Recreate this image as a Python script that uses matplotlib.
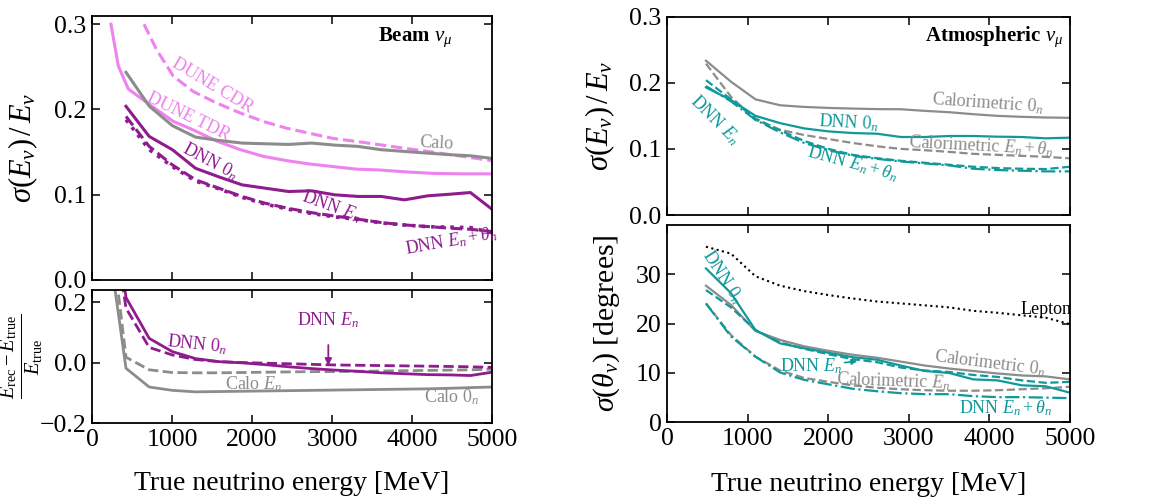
import matplotlib
matplotlib.use("Agg")
import matplotlib.pyplot as plt

plt.rcParams["font.family"] = ["Liberation Serif", "DejaVu Serif"]
plt.rcParams["mathtext.fontset"] = "custom"
plt.rcParams["mathtext.rm"] = "Liberation Serif"
plt.rcParams["mathtext.it"] = "Liberation Serif:italic"
plt.rcParams["mathtext.bf"] = "Liberation Serif:bold"
plt.rcParams["axes.linewidth"] = 1.3

# ---------------- Beam nu_mu: energy resolution ----------------
beam_E = [425, 715, 1005, 1295, 1585, 1875, 2165, 2455, 2745, 3035, 3325,
          3615, 3905, 4195, 4485, 4730, 5000]
beam_res_calo = [0.2436, 0.204, 0.181, 0.1676, 0.1637, 0.1606, 0.1598, 0.159,
                 0.1606, 0.1582, 0.1567, 0.1528, 0.1508, 0.1488, 0.1469, 0.1457, 0.1426]
beam_res_dnn0 = [0.2037, 0.1684, 0.1528, 0.131, 0.121, 0.1116, 0.1077, 0.1038,
                 0.1046, 0.0999, 0.098, 0.098, 0.094, 0.0987, 0.1007, 0.1026, 0.083]
beam_res_dnnE = [0.1919, 0.1567, 0.135, 0.1175, 0.1077, 0.098, 0.090, 0.084,
                 0.079, 0.075, 0.0713, 0.0674, 0.0646, 0.0627, 0.0607, 0.0595, 0.0568]
beam_res_dnnEth = [0.188, 0.153, 0.133, 0.116, 0.107, 0.097, 0.089, 0.083,
                   0.078, 0.074, 0.071, 0.067, 0.0645, 0.0625, 0.062, 0.0615, 0.0555]

tdr_E = [237, 329, 454, 746, 1017, 1267, 1558, 1850, 2142, 2433, 2725, 3017,
         3308, 3600, 3892, 4267, 4683, 5000]
tdr_res = [0.30, 0.251, 0.224, 0.204, 0.186, 0.176, 0.163, 0.153, 0.145, 0.140,
           0.136, 0.133, 0.130, 0.129, 0.127, 0.125, 0.1245, 0.1245]
cdr_E = [650, 808, 1017, 1267, 1558, 1850, 2142, 2433, 2725, 3017, 3308, 3600,
         3892, 4183, 4475, 5000]
cdr_res = [0.30, 0.270, 0.239, 0.221, 0.2076, 0.196, 0.186, 0.178, 0.172, 0.166,
           0.1625, 0.1586, 0.1547, 0.151, 0.147, 0.140]

# ---------------- Beam nu_mu: energy bias ----------------
bias_E = [135] + beam_E
bias_calo0 = [0.53, -0.019, -0.081, -0.092, -0.097, -0.096, -0.095, -0.094, -0.093,
              -0.092, -0.091, -0.090, -0.089, -0.088, -0.087, -0.085, -0.083, -0.081]
bias_caloE = [0.66, 0.0176, -0.024, -0.033, -0.034, -0.034, -0.033, -0.032, -0.031,
              -0.030, -0.030, -0.029, -0.028, -0.027, -0.026, -0.025, -0.024, -0.022]
bias_dnn0 = [0.80, 0.215, 0.080, 0.036, 0.013, 0.003, -0.001, -0.007, -0.014,
             -0.020, -0.025, -0.029, -0.034, -0.037, -0.040, -0.041, -0.043, -0.032]
bias_dnnE = [0.70, 0.180, 0.050, 0.025, 0.010, 0.003, 0.000, -0.002, -0.004,
             -0.006, -0.008, -0.009, -0.010, -0.011, -0.012, -0.013, -0.014, -0.016]

# ---------------- Atmospheric nu_mu ----------------
atm_E = [480, 790, 1095, 1400, 1700, 2000, 2300, 2600, 2900, 3200, 3500, 3800,
         4100, 4400, 4700, 5000]
atm_res_cal0 = [0.2335, 0.2017, 0.175, 0.166, 0.1635, 0.162, 0.161, 0.1602, 0.160,
                0.1575, 0.1555, 0.1525, 0.150, 0.1485, 0.1475, 0.147]
atm_res_calEth = [0.229, 0.179, 0.144, 0.129, 0.121, 0.115, 0.109, 0.104, 0.100,
                  0.098, 0.0955, 0.0925, 0.091, 0.0895, 0.088, 0.0857]
atm_res_dnn0 = [0.193, 0.174, 0.150, 0.139, 0.131, 0.1265, 0.124, 0.123, 0.118,
                0.118, 0.1195, 0.1195, 0.1185, 0.118, 0.116, 0.117]
atm_res_dnnE = [0.204, 0.175, 0.146, 0.128, 0.112, 0.100, 0.091, 0.086, 0.082,
                0.079, 0.076, 0.073, 0.071, 0.070, 0.0695, 0.073]
atm_res_dnnEth = [0.195, 0.172, 0.144, 0.125, 0.109, 0.098, 0.090, 0.085, 0.081,
                  0.078, 0.075, 0.070, 0.068, 0.067, 0.066, 0.066]

ang_lepton = [35.6, 34.2, 29.6, 27.7, 26.6, 25.8, 25.1, 24.5, 24.1, 23.7, 23.3,
              22.6, 22.2, 21.7, 21.2, 19.9]
ang_dnn0 = [31.2, 26.2, 18.7, 16.0, 15.0, 14.1, 13.2, 12.7, 11.5, 10.4, 10.0,
            8.7, 8.5, 7.5, 7.3, 6.0]
ang_cal0 = [27.7, 23.8, 18.5, 16.7, 15.4, 14.5, 13.7, 13.1, 12.3, 11.5, 10.9,
            10.4, 9.9, 9.5, 9.3, 8.7]
ang_dnnE = [26.8, 23.3, 18.7, 16.2, 14.9, 13.8, 12.8, 12.2, 11.1, 10.5, 10.2,
            9.6, 9.2, 8.5, 8.0, 8.2]
ang_calE = [24.1, 17.7, 13.3, 10.5, 9.0, 8.2, 7.5, 7.0, 6.7, 6.5, 6.4, 6.4,
            6.5, 6.7, 6.9, 7.2]
ang_dnnEth = [24.1, 17.4, 13.3, 10.1, 8.6, 7.7, 6.8, 6.3, 5.9, 5.7, 5.7, 5.3,
              5.1, 5.1, 5.0, 4.9]

xticks = [0, 1000, 2000, 3000, 4000, 5000]

PURPLE = "#8f1c8f"
VIOLET = "#ee82ee"
GREY = "#8c8c8c"
TEAL = "#11999a"

W, H = 1153, 499
fig = plt.figure(figsize=(W / 100, H / 100), dpi=100)


def rect(l, t, r, b):
    return [l / W, 1 - b / H, (r - l) / W, (b - t) / H]


ax_bt = fig.add_axes(rect(92, 15.7, 492, 280))
ax_bb = fig.add_axes(rect(92, 290, 492, 423))
ax_at = fig.add_axes(rect(667.3, 16.7, 1070, 215))
ax_ab = fig.add_axes(rect(667.3, 225, 1070, 422.3))

for ax in (ax_bt, ax_bb, ax_at, ax_ab):
    ax.set_xlim(0, 5000)
    ax.set_xticks(xticks)
    ax.tick_params(direction="in", top=True, right=True, length=6, width=1.1,
                   labelsize=18.5, pad=4)
for ax in (ax_bt, ax_at):
    ax.tick_params(labelbottom=False)

LBL = 13

# ---- Beam resolution ----
ax = ax_bt
ax.plot(tdr_E, tdr_res, color=VIOLET, lw=2.2)
ax.plot(cdr_E, cdr_res, color=VIOLET, lw=2.2, ls="--")
ax.plot(beam_E, beam_res_calo, color=GREY, lw=2.2)
ax.plot(beam_E, beam_res_dnn0, color=PURPLE, lw=2.2)
ax.plot(beam_E, beam_res_dnnE, color=PURPLE, lw=2.2, ls="--")
ax.plot(beam_E, beam_res_dnnEth, color=PURPLE, lw=2.6, ls=":")
ax.set_ylim(0, 0.31)
ax.set_yticks([0.0, 0.1, 0.2, 0.3])
ax.set_ylabel(r"$\sigma(E_\nu)\,/\,E_\nu$", fontsize=22)
ax.yaxis.set_label_coords(-0.13, 0.5)
ax.text(1504, 0.228, "DUNE CDR", color=VIOLET, fontsize=LBL, rotation=-31,
        ha="center", va="center", rotation_mode="anchor")
ax.text(1204, 0.192, "DUNE TDR", color=VIOLET, fontsize=LBL, rotation=-26,
        ha="center", va="center", rotation_mode="anchor")
ax.text(4300, 0.160, "Calo", color=GREY, fontsize=LBL, rotation=-3,
        ha="center", va="center", rotation_mode="anchor")
ax.text(1475, 0.139, r"DNN $0_n$", color=PURPLE, fontsize=LBL, rotation=-28,
        ha="center", va="center", rotation_mode="anchor")
ax.text(2996, 0.086, r"DNN $E_n$", color=PURPLE, fontsize=LBL, rotation=-20,
        ha="center", va="center", rotation_mode="anchor")
ax.text(4496, 0.046, r"DNN $E_n+\theta_n$", color=PURPLE, fontsize=LBL, rotation=10,
        ha="center", va="center", rotation_mode="anchor")
ax.text(0.9, 0.92, r"Beam $\nu_\mu$", transform=ax.transAxes, fontsize=15,
        fontweight="bold", ha="right", va="center")

# ---- Beam bias ----
ax = ax_bb
ax.plot(bias_E, bias_calo0, color=GREY, lw=2.0)
ax.plot(bias_E, bias_caloE, color=GREY, lw=2.0, ls="--")
ax.plot(bias_E, bias_dnn0, color=PURPLE, lw=2.0)
ax.plot(bias_E, bias_dnnE, color=PURPLE, lw=2.0, ls="--")
ax.set_ylim(-0.2, 0.24)
ax.set_yticks([-0.2, 0.0, 0.2])
ax.set_ylabel(r"$\frac{E_{\rm rec}-E_{\rm true}}{E_{\rm true}}$", fontsize=21)
ax.yaxis.set_label_coords(-0.118, 0.5)
ax.text(1308, 0.0615, r"DNN $0_n$", color=PURPLE, fontsize=LBL, rotation=-6,
        ha="center", va="center", rotation_mode="anchor")
ax.annotate(r"DNN $E_n$", xy=(2954, -0.010), xytext=(2954, 0.141),
            color=PURPLE, fontsize=LBL, ha="center", va="center",
            arrowprops=dict(arrowstyle="-|>", color=PURPLE, lw=1.3,
                            shrinkA=9, shrinkB=0, mutation_scale=10))
ax.text(2017, -0.070, r"Calo $E_n$", color=GREY, fontsize=LBL,
        ha="center", va="center")
ax.text(4496, -0.114, r"Calo $0_n$", color=GREY, fontsize=LBL,
        ha="center", va="center")
ax.set_xlabel("True neutrino energy [MeV]", fontsize=20, va="top")
ax.xaxis.set_label_coords(0.5, -0.36)

# ---- Atmospheric resolution ----
ax = ax_at
ax.plot(atm_E, atm_res_cal0, color=GREY, lw=1.6)
ax.plot(atm_E, atm_res_calEth, color=GREY, lw=1.6, ls="--")
ax.plot(atm_E, atm_res_dnnE, color=TEAL, lw=1.6, ls="--")
ax.plot(atm_E, atm_res_dnnEth, color=TEAL, lw=1.6, ls="-.")
ax.plot(atm_E, atm_res_dnn0, color=TEAL, lw=1.6)
ax.set_ylim(0, 0.3)
ax.set_yticks([0.0, 0.1, 0.2, 0.3])
ax.set_ylabel(r"$\sigma(E_\nu)\,/\,E_\nu$", fontsize=22)
ax.yaxis.set_label_coords(-0.124, 0.5)
ax.text(3983, 0.169, r"Calorimetric $0_n$", color=GREY, fontsize=LBL, rotation=-4,
        ha="center", va="center", rotation_mode="anchor")
ax.text(2255, 0.139, r"DNN $0_n$", color=TEAL, fontsize=LBL, rotation=-3,
        ha="center", va="center", rotation_mode="anchor")
ax.text(3901, 0.105, r"Calorimetric $E_n+\theta_n$", color=GREY, fontsize=LBL,
        rotation=-3, ha="center", va="center", rotation_mode="anchor")
ax.text(2304, 0.078, r"DNN $E_n+\theta_n$", color=TEAL, fontsize=LBL, rotation=-15,
        ha="center", va="center", rotation_mode="anchor")
ax.text(588, 0.144, r"DNN $E_n$", color=TEAL, fontsize=LBL, rotation=-45,
        ha="center", va="center", rotation_mode="anchor")
ax.text(0.982, 0.90, r"Atmospheric $\nu_\mu$", transform=ax.transAxes, fontsize=15,
        fontweight="bold", ha="right", va="center")

# ---- Atmospheric angular resolution ----
ax = ax_ab
ax.plot(atm_E, ang_lepton, color="black", lw=1.5, ls=":")
ax.plot(atm_E, ang_cal0, color=GREY, lw=1.6)
ax.plot(atm_E, ang_calE, color=GREY, lw=1.6, ls="--")
ax.plot(atm_E, ang_dnnE, color=TEAL, lw=1.6, ls="--")
ax.plot(atm_E, ang_dnnEth, color=TEAL, lw=1.6, ls="-.")
ax.plot(atm_E, ang_dnn0, color=TEAL, lw=1.6)
ax.set_ylim(0, 40)
ax.set_yticks([0, 10, 20, 30])
ax.set_ylabel(r"$\sigma(\theta_\nu)$ [degrees]", fontsize=21.5)
ax.yaxis.set_label_coords(-0.112, 0.5)
ax.text(4702, 22.9, "Lepton", color="black", fontsize=LBL, ha="center", va="center")
ax.text(687, 29.5, r"DNN $0_n$", color=TEAL, fontsize=LBL, rotation=-57,
        ha="center", va="center", rotation_mode="anchor")
ax.annotate(r"DNN $E_n$", xy=(2359, 12.4), xytext=(1780, 11.3),
            color=TEAL, fontsize=LBL, ha="center", va="center",
            arrowprops=dict(arrowstyle="-|>", color=TEAL, lw=1.2,
                            shrinkA=34, shrinkB=0, mutation_scale=8))
ax.text(4007, 12.0, r"Calorimetric $0_n$", color=GREY, fontsize=LBL, rotation=-7,
        ha="center", va="center", rotation_mode="anchor")
ax.text(2806, 8.4, r"Calorimetric $E_n$", color=GREY, fontsize=LBL, rotation=-2,
        ha="center", va="center", rotation_mode="anchor")
ax.text(4205, 2.8, r"DNN $E_n+\theta_n$", color=TEAL, fontsize=LBL,
        ha="center", va="center")
ax.set_xlabel("True neutrino energy [MeV]", fontsize=20, va="top")
ax.xaxis.set_label_coords(0.5, -0.25)

fig.savefig("out.png", dpi=100)
